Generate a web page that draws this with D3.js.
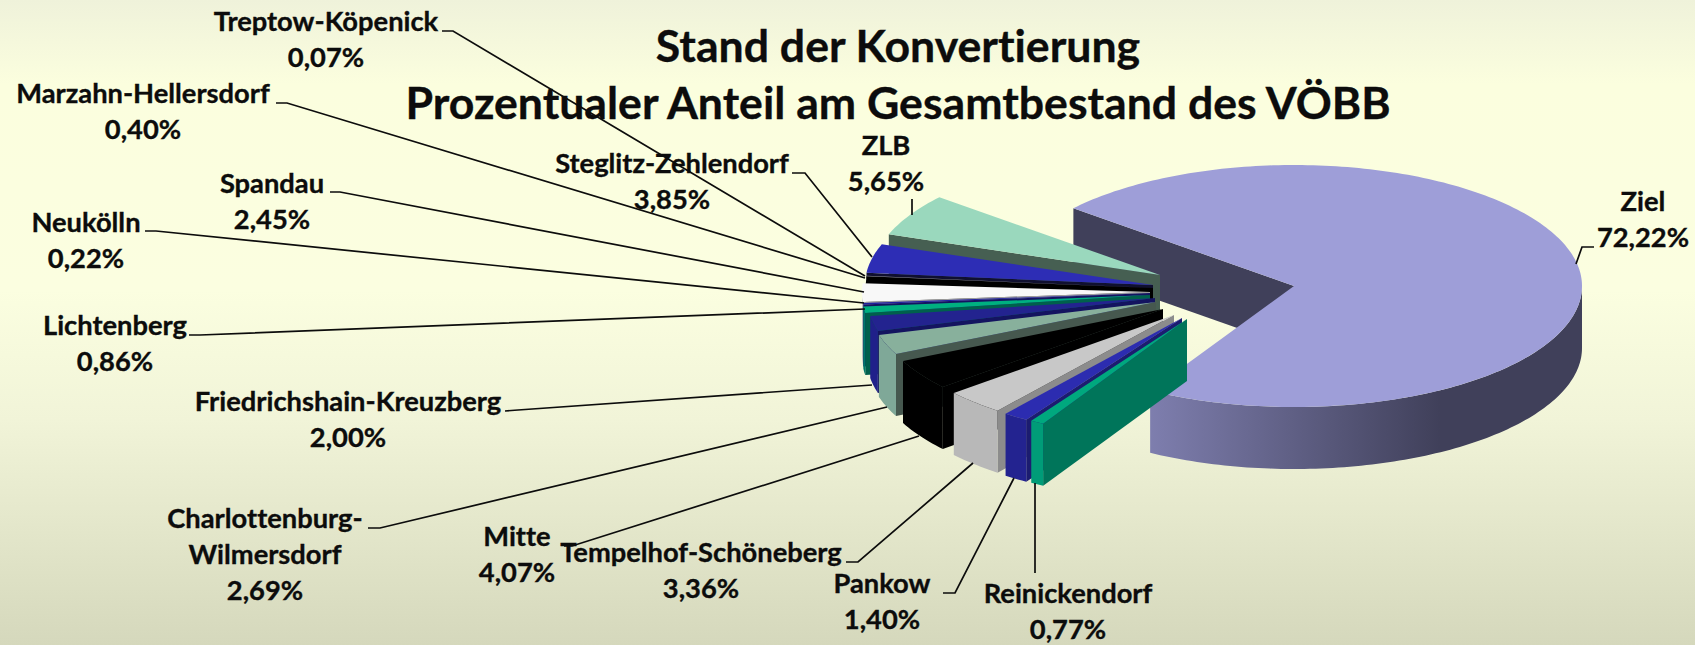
<!DOCTYPE html>
<html>
<head>
<meta charset="utf-8">
<script src="https://cdnjs.cloudflare.com/ajax/libs/d3/7.8.5/d3.min.js"></script>
<style>
  html, body { margin: 0; padding: 0; }
  svg { display: block; }
  text {
    font-family: Lato, sans-serif;
    font-weight: 700;
    fill: #0c0c0c;
    stroke: #0c0c0c;
    stroke-width: 0.35px;
    font-variant-ligatures: none;
  }
</style>
</head>
<body>
<script>
// clockwise, starting at the big slice
var categories = ["Ziel", "Reinickendorf", "Pankow", "Tempelhof-Schöneberg", "Mitte",
    "Charlottenburg-Wilmersdorf", "Friedrichshain-Kreuzberg", "Lichtenberg", "Neukölln",
    "Spandau", "Marzahn-Hellersdorf", "Treptow-Köpenick", "Steglitz-Zehlendorf", "ZLB"];
var values = [72.22, 0.77, 1.40, 3.36, 4.07, 2.69, 2.00, 0.86, 0.22, 2.45, 0.40, 0.07, 3.85, 5.65];
var titleLines = ["Stand der Konvertierung", "Prozentualer Anteil am Gesamtbestand des VÖBB"];

var w = 1695;
var h = 645;

// the pie on screen: ellipse of the top face and height of the walls
var cx = 1294, cy = 286, rx = 288, ry = 121, depth = 62;
var startAngle = 310 * Math.PI / 180;

// top face, radial wall, outer wall
var colors = {
    "Ziel": ["#9e9ed8", "#40405a", "url(#zielWall)"],
    "Reinickendorf": ["#00a87e", "#00755a", "#009c78"],
    "Pankow": ["#2c2cb0", "#1c1c70", "#232390"],
    "Tempelhof-Schöneberg": ["#c8c8c8", "#8c8c8c", "#b8b8b8"],
    "Mitte": ["#000000", "#000000", "#000000"],
    "Charlottenburg-Wilmersdorf": ["#88b09c", "#46584f", "#7fa898"],
    "Friedrichshain-Kreuzberg": ["#23238f", "#141460", "#20208a"],
    "Lichtenberg": ["#00b080", "#00604c", "#00786a"],
    "Neukölln": ["#2020a0", "#141460", "#1c1c80"],
    "Spandau": ["#f8f8f8", "#a0a0a0", "#c0c0c0"],
    "Marzahn-Hellersdorf": ["#000000", "#000000", "#000000"],
    "Treptow-Köpenick": ["#a0a0a0", "#000000", "#606060"],
    "Steglitz-Zehlendorf": ["#2d2db5", "#101030", "#22228a"],
    "ZLB": ["#9ad8bd", "#465f52", "#7fa898"]
};

// how far each slice is pulled out of the centre
var explode = {
    "Ziel": [0, 0],
    "Reinickendorf": [-107, 33],
    "Pankow": [-112, 32],
    "Tempelhof-Schöneberg": [-120, 29],
    "Mitte": [-131, 23],
    "Charlottenburg-Wilmersdorf": [-138, 16],
    "Friedrichshain-Kreuzberg": [-139, 12],
    "Lichtenberg": [-144, 9],
    "Neukölln": [-144, 7],
    "Spandau": [-144, 6],
    "Marzahn-Hellersdorf": [-141, 6],
    "Treptow-Köpenick": [-141, 2],
    "Steglitz-Zehlendorf": [-141, -1],
    "ZLB": [-134, -11]
};

// label anchor (centre x, first baseline), then the leader line
var labels = {
    "Ziel": { x: 1643, y: 211, lines: ["Ziel"], leader: [[1594, 247], [1582, 247], [1576, 264]] },
    "Reinickendorf": { x: 1068, y: 603, lines: ["Reinickendorf"], leader: [[1035, 573], [1035, 483]] },
    "Pankow": { x: 882, y: 593, lines: ["Pankow"], leader: [[943, 593], [955, 593], [1014, 478]] },
    "Tempelhof-Schöneberg": { x: 701, y: 562, lines: ["Tempelhof-Schöneberg"], leader: [[846, 562], [858, 562], [973, 463]] },
    "Mitte": { x: 517, y: 546, lines: ["Mitte"], leader: [[564, 546], [572, 546], [919, 436]] },
    "Charlottenburg-Wilmersdorf": { x: 265, y: 528, lines: ["Charlottenburg-", "Wilmersdorf"], leader: [[368, 528], [380, 528], [887, 407]] },
    "Friedrichshain-Kreuzberg": { x: 348, y: 411, lines: ["Friedrichshain-Kreuzberg"], leader: [[505, 411], [518, 410], [872, 385]] },
    "Lichtenberg": { x: 115, y: 335, lines: ["Lichtenberg"], leader: [[189, 335], [200, 335], [865, 309]] },
    "Neukölln": { x: 86, y: 232, lines: ["Neukölln"], leader: [[145, 231], [156, 231], [864, 303]] },
    "Spandau": { x: 272, y: 193, lines: ["Spandau"], leader: [[330, 192], [340, 192], [864, 292]] },
    "Marzahn-Hellersdorf": { x: 143, y: 103, lines: ["Marzahn-Hellersdorf"], leader: [[276, 103], [287, 103], [865, 278]] },
    "Treptow-Köpenick": { x: 326, y: 31, lines: ["Treptow-Köpenick"], leader: [[442, 31], [453, 31], [865, 276]] },
    "Steglitz-Zehlendorf": { x: 672, y: 173, lines: ["Steglitz-Zehlendorf"], leader: [[792, 173], [805, 173], [872, 257]] },
    "ZLB": { x: 886, y: 155, lines: ["ZLB"], leader: [[912, 199], [912, 215]] }
};

var svg = d3.select("body").append("svg")
    .attr("width", w)
    .attr("height", h);

var defs = svg.append("defs");

var bg = defs.append("linearGradient")
    .attr("id", "bg")
    .attr("x1", 0).attr("y1", 0).attr("x2", 0).attr("y2", 1);
bg.append("stop").attr("offset", "0%").attr("stop-color", "#eff2da");
bg.append("stop").attr("offset", "13%").attr("stop-color", "#fbfede");
bg.append("stop").attr("offset", "45%").attr("stop-color", "#fbfee0");
bg.append("stop").attr("offset", "65%").attr("stop-color", "#f1f4d8");
bg.append("stop").attr("offset", "100%").attr("stop-color", "#d5d8bc");

var wallGrad = defs.append("linearGradient")
    .attr("id", "zielWall")
    .attr("gradientUnits", "userSpaceOnUse")
    .attr("x1", 1150).attr("y1", 0).attr("x2", 1440).attr("y2", 0);
wallGrad.append("stop").attr("offset", "0%").attr("stop-color", "#7e7eae");
wallGrad.append("stop").attr("offset", "100%").attr("stop-color", "#40405a");

svg.append("rect")
    .attr("width", w)
    .attr("height", h)
    .attr("fill", "url(#bg)");

var xScale = d3.scaleLinear().domain([-1, 1]).range([cx - rx, cx + rx]);
var yScale = d3.scaleLinear().domain([-1, 1]).range([cy - ry, cy + ry]);

var pie = d3.pie()
    .sort(null)
    .startAngle(startAngle)
    .endAngle(startAngle + 2 * Math.PI)
    .value(function(d) { return d.value; });

var slices = pie(categories.map(function(name, i) {
    return { name: name, value: values[i] };
}));

var line = d3.line();

// point on the rim (r=1) or at the tip (r=0) of a slice, dz pushes it down to the bottom face
function rim(d, angle, r, dz) {
    var off = explode[d.data.name];
    return [
        xScale(r * Math.sin(angle)) + off[0],
        yScale(-r * Math.cos(angle)) + off[1] + (dz || 0)
    ];
}

function arcPoints(d, a0, a1, dz) {
    var n = Math.max(2, Math.ceil((a1 - a0) / 0.02));
    return d3.range(n + 1).map(function(i) {
        return rim(d, a0 + (a1 - a0) * i / n, 1, dz);
    });
}

// only the part of the rim that faces the viewer gets a wall
function frontRange(d) {
    var a0 = d.startAngle, a1 = d.endAngle;
    var k = Math.ceil(a0 / (2 * Math.PI) - 0.25);
    var lo = Math.PI / 2 + 2 * Math.PI * k - 2 * Math.PI;
    var hi = lo + Math.PI;
    if (a1 < lo || a0 > hi) { lo += 2 * Math.PI; hi += 2 * Math.PI; }
    return [Math.max(a0, lo), Math.min(a1, hi)];
}

function drawSlice(g, d) {
    var c = colors[d.data.name];

    g.append("path")
        .attr("d", line([rim(d, d.startAngle, 0), rim(d, d.startAngle, 1), rim(d, d.startAngle, 1, depth), rim(d, d.startAngle, 0, depth)]) + "Z")
        .attr("fill", c[1]);

    var fr = frontRange(d);
    if (fr[1] > fr[0]) {
        var top = arcPoints(d, fr[0], fr[1], 0);
        var bottom = arcPoints(d, fr[0], fr[1], depth).reverse();
        g.append("path")
            .attr("d", line(top.concat(bottom)) + "Z")
            .attr("fill", c[2]);
    }

    var face = [rim(d, d.startAngle, 0)].concat(arcPoints(d, d.startAngle, d.endAngle, 0));
    g.append("path")
        .attr("d", line(face) + "Z")
        .attr("fill", c[0]);
}

var pieG = svg.append("g");

// back to front: big slice first, then from ZLB round to Reinickendorf
var order = [slices[0]].concat(slices.slice(1).reverse());
order.forEach(function(d) {
    drawSlice(pieG.append("g").attr("class", "slice"), d);
});

var pct = d3.format(".2f");
function valueLabel(v) {
    return pct(v).replace(".", ",") + "%";
}

var lineHeight = 36;

slices.forEach(function(d) {
    var lab = labels[d.data.name];

    svg.append("path")
        .attr("d", line(lab.leader))
        .attr("fill", "none")
        .attr("stroke", "#0c0c0c")
        .attr("stroke-width", 1.7);

    var text = svg.append("text")
        .attr("text-anchor", "middle")
        .attr("font-size", 27.3);
    lab.lines.concat([valueLabel(d.data.value)]).forEach(function(t, i) {
        text.append("tspan")
            .attr("x", lab.x)
            .attr("y", lab.y + i * lineHeight)
            .text(t);
    });
});

svg.selectAll("text.title")
    .data(titleLines)
    .enter()
    .append("text")
    .attr("class", "title")
    .attr("x", 898)
    .attr("y", function(d, i) { return 62 + i * 57; })
    .attr("text-anchor", "middle")
    .attr("font-size", 44.6)
    .text(function(d) { return d; });
</script>
</body>
</html>
